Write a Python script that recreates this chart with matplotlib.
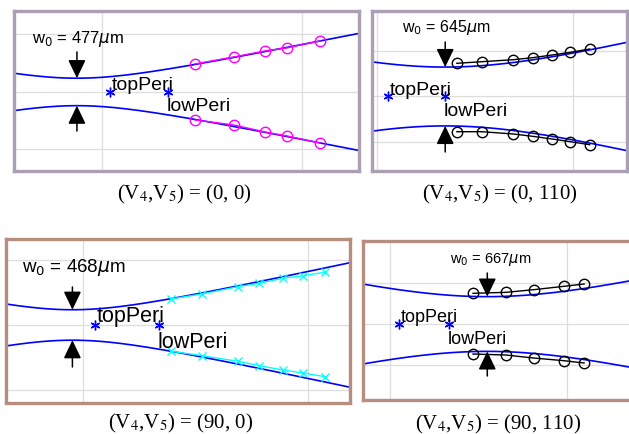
import numpy as np
import matplotlib
matplotlib.use("Agg")
import matplotlib.pyplot as plt

# ---- data (z in m, beam radius in mm) ----
# panel 1: (V4,V5) = (0, 0)
P1_W0, P1_Z0, P1_ZR = 0.477, 0.4375, 0.17
P1_Z   = [0.7325, 0.83, 0.9075, 0.9625, 1.045]
P1_TOP = [0.974, 1.217, 1.426, 1.53, 1.774]
P1_BOT = [-0.974, -1.148, -1.391, -1.53, -1.774]
P1_PERI = [0.52, 0.665]

# panel 2: (V4,V5) = (0, 110)
P2_W0, P2_Z0, P2_ZR = 0.645, 0.6735, 0.301
P2_Z   = [0.7033, 0.7671, 0.8477, 0.8972, 0.9472, 0.9941, 1.0434]
P2_TOP = [0.728, 0.763, 0.807, 0.851, 0.910, 0.969, 1.042]
P2_BOT = [-0.772, -0.772, -0.822, -0.873, -0.932, -0.991, -1.057]
P2_PERI = [0.528, 0.6735]

# panel 3: (V4,V5) = (90, 0)
P3_W0, P3_Z0, P3_ZR = 0.468, 0.4756, 0.1556
P3_Z   = [0.6949, 0.7638, 0.8438, 0.8918, 0.9438, 0.9896, 1.0378]
P3_TOP = [0.80, 0.954, 1.178, 1.283, 1.437, 1.517, 1.622]
P3_BOT = [-0.809, -0.945, -1.117, -1.252, -1.385, -1.477, -1.591]
P3_PERI = [0.5267, 0.6689]

# panel 4: (V4,V5) = (90, 110)
P4_W0, P4_Z0, P4_ZR = 0.667, 0.774, 0.3305
P4_Z   = [0.7336, 0.8268, 0.9048, 0.9915, 1.048]
P4_TOP = [0.749, 0.773, 0.837, 0.920, 0.976]
P4_BOT = [-0.732, -0.756, -0.829, -0.895, -0.951]
P4_PERI = [0.5254, 0.6667]

CAPTIONS = [r"(V$_4$,V$_5$) = (0, 0)", r"(V$_4$,V$_5$) = (0, 110)",
            r"(V$_4$,V$_5$) = (90, 0)", r"(V$_4$,V$_5$) = (90, 110)"]

W, H = 629, 435
fig = plt.figure(figsize=(W / 100, H / 100), dpi=100)
plt.rcParams["font.family"] = ["Liberation Sans", "DejaVu Sans"]


def px_axes(x0, y0, x1, y1):
    # axes placed from pixel box (top-left origin)
    return fig.add_axes([x0 / W, 1 - y1 / H, (x1 - x0) / W, (y1 - y0) / H])


def panel(ax, frame, xlim, ylim, yticks, w0, z0, zr, z, top, bot, peri,
          mstyle, arrow_tails, label_xy, fs_peri, fs_lab):
    ax.set_xlim(*xlim)
    ax.set_ylim(*ylim)
    ax.set_xticks([0.5, 1.0])
    ax.set_yticks(yticks)
    ax.tick_params(length=0, labelbottom=False, labelleft=False)
    ax.grid(True, color="#dddddd", lw=0.9)
    ax.set_axisbelow(True)
    for s in ax.spines.values():
        s.set_color(frame)
        s.set_linewidth(2.4)

    zz = np.linspace(xlim[0], xlim[1], 300)
    w = w0 * np.sqrt(1 + ((zz - z0) / zr) ** 2)
    ax.plot(zz, w, color="#0000ff", lw=1.2)
    ax.plot(zz, -w, color="#0000ff", lw=1.2)

    ax.plot(z, top, **mstyle)
    ax.plot(z, bot, **mstyle)

    ax.plot(peri, [0, 0], ls="none", marker=(6, 2, 0), color="#0000ff",
            ms=7, mew=1.0)
    ax.annotate("topPeri", (peri[0], 0), xytext=(1, -1), textcoords="offset points",
                ha="left", va="bottom", fontsize=fs_peri)
    ax.annotate("lowPeri", (peri[1], 0), xytext=(-1, -4), textcoords="offset points",
                ha="left", va="top", fontsize=fs_peri)

    aprops = dict(arrowstyle="-|>,head_length=0.75,head_width=0.36", color="k",
                  lw=1.1, mutation_scale=15, shrinkA=0, shrinkB=0)
    ax.annotate("", xy=(z0, w0), xytext=(z0, arrow_tails[0]), arrowprops=aprops)
    ax.annotate("", xy=(z0, -w0), xytext=(z0, arrow_tails[1]), arrowprops=aprops)

    ax.text(label_xy[0], label_xy[1], r"w$_0$ = %d$\mu$m" % round(w0 * 1000),
            ha="left", va="center", fontsize=fs_lab, math_fontfamily="dejavusans")


PURPLE = "#aa9fb3"
BROWN = "#b58e80"

ax1 = px_axes(13.5, 11.5, 359, 171.5)
panel(ax1, PURPLE, (0.279, 1.1425), (-2.73, 2.83), [-2, 0, 2],
      P1_W0, P1_Z0, P1_ZR, P1_Z, P1_TOP, P1_BOT, P1_PERI,
      dict(color="#ff00ff", marker="o", mfc="none", ms=7.5, lw=1.0, mew=1.0),
      (1.39, -1.36), (0.325, 1.88), 14, 12)

ax2 = px_axes(371.5, 11.5, 626.5, 171.5)
panel(ax2, PURPLE, (0.4847, 1.1378), (-1.623, 1.886), [-1, 0, 1],
      P2_W0, P2_Z0, P2_ZR, P2_Z, P2_TOP, P2_BOT, P2_PERI,
      dict(color="k", marker="o", mfc="none", ms=7.5, lw=1.0, mew=1.0),
      (1.195, -1.217), (0.5638, 1.546), 14, 11.5)

ax3 = px_axes(5.5, 239.5, 350, 403.5)
panel(ax3, BROWN, (0.3267, 1.0933), (-2.385, 2.66), [-2, 0, 2],
      P3_W0, P3_Z0, P3_ZR, P3_Z, P3_TOP, P3_BOT, P3_PERI,
      dict(color="#00ffff", marker="x", ms=6, lw=1.0, mew=1.0),
      (1.169, -1.292), (0.3644, 1.785), 15.5, 13.5)

ax4 = px_axes(362.5, 241.5, 635, 400.5)
panel(ax4, BROWN, (0.4209, 1.192), (-1.841, 2.037), [-1, 0, 1],
      P4_W0, P4_Z0, P4_ZR, P4_Z, P4_TOP, P4_BOT, P4_PERI,
      dict(color="k", marker="o", mfc="none", ms=7.5, lw=1.0, mew=1.0),
      (1.244, -1.268), (0.6695, 1.61), 13, 10.5)

cap_xy = [(184, 194), (500, 194), (181, 423), (498, 424)]
for (cx, cy), cap in zip(cap_xy, CAPTIONS):
    fig.text(cx / W, 1 - cy / H, cap, ha="center", va="center", fontsize=15,
             family=["Liberation Serif", "DejaVu Serif"], math_fontfamily="stix")

fig.savefig("out.png", dpi=100)
